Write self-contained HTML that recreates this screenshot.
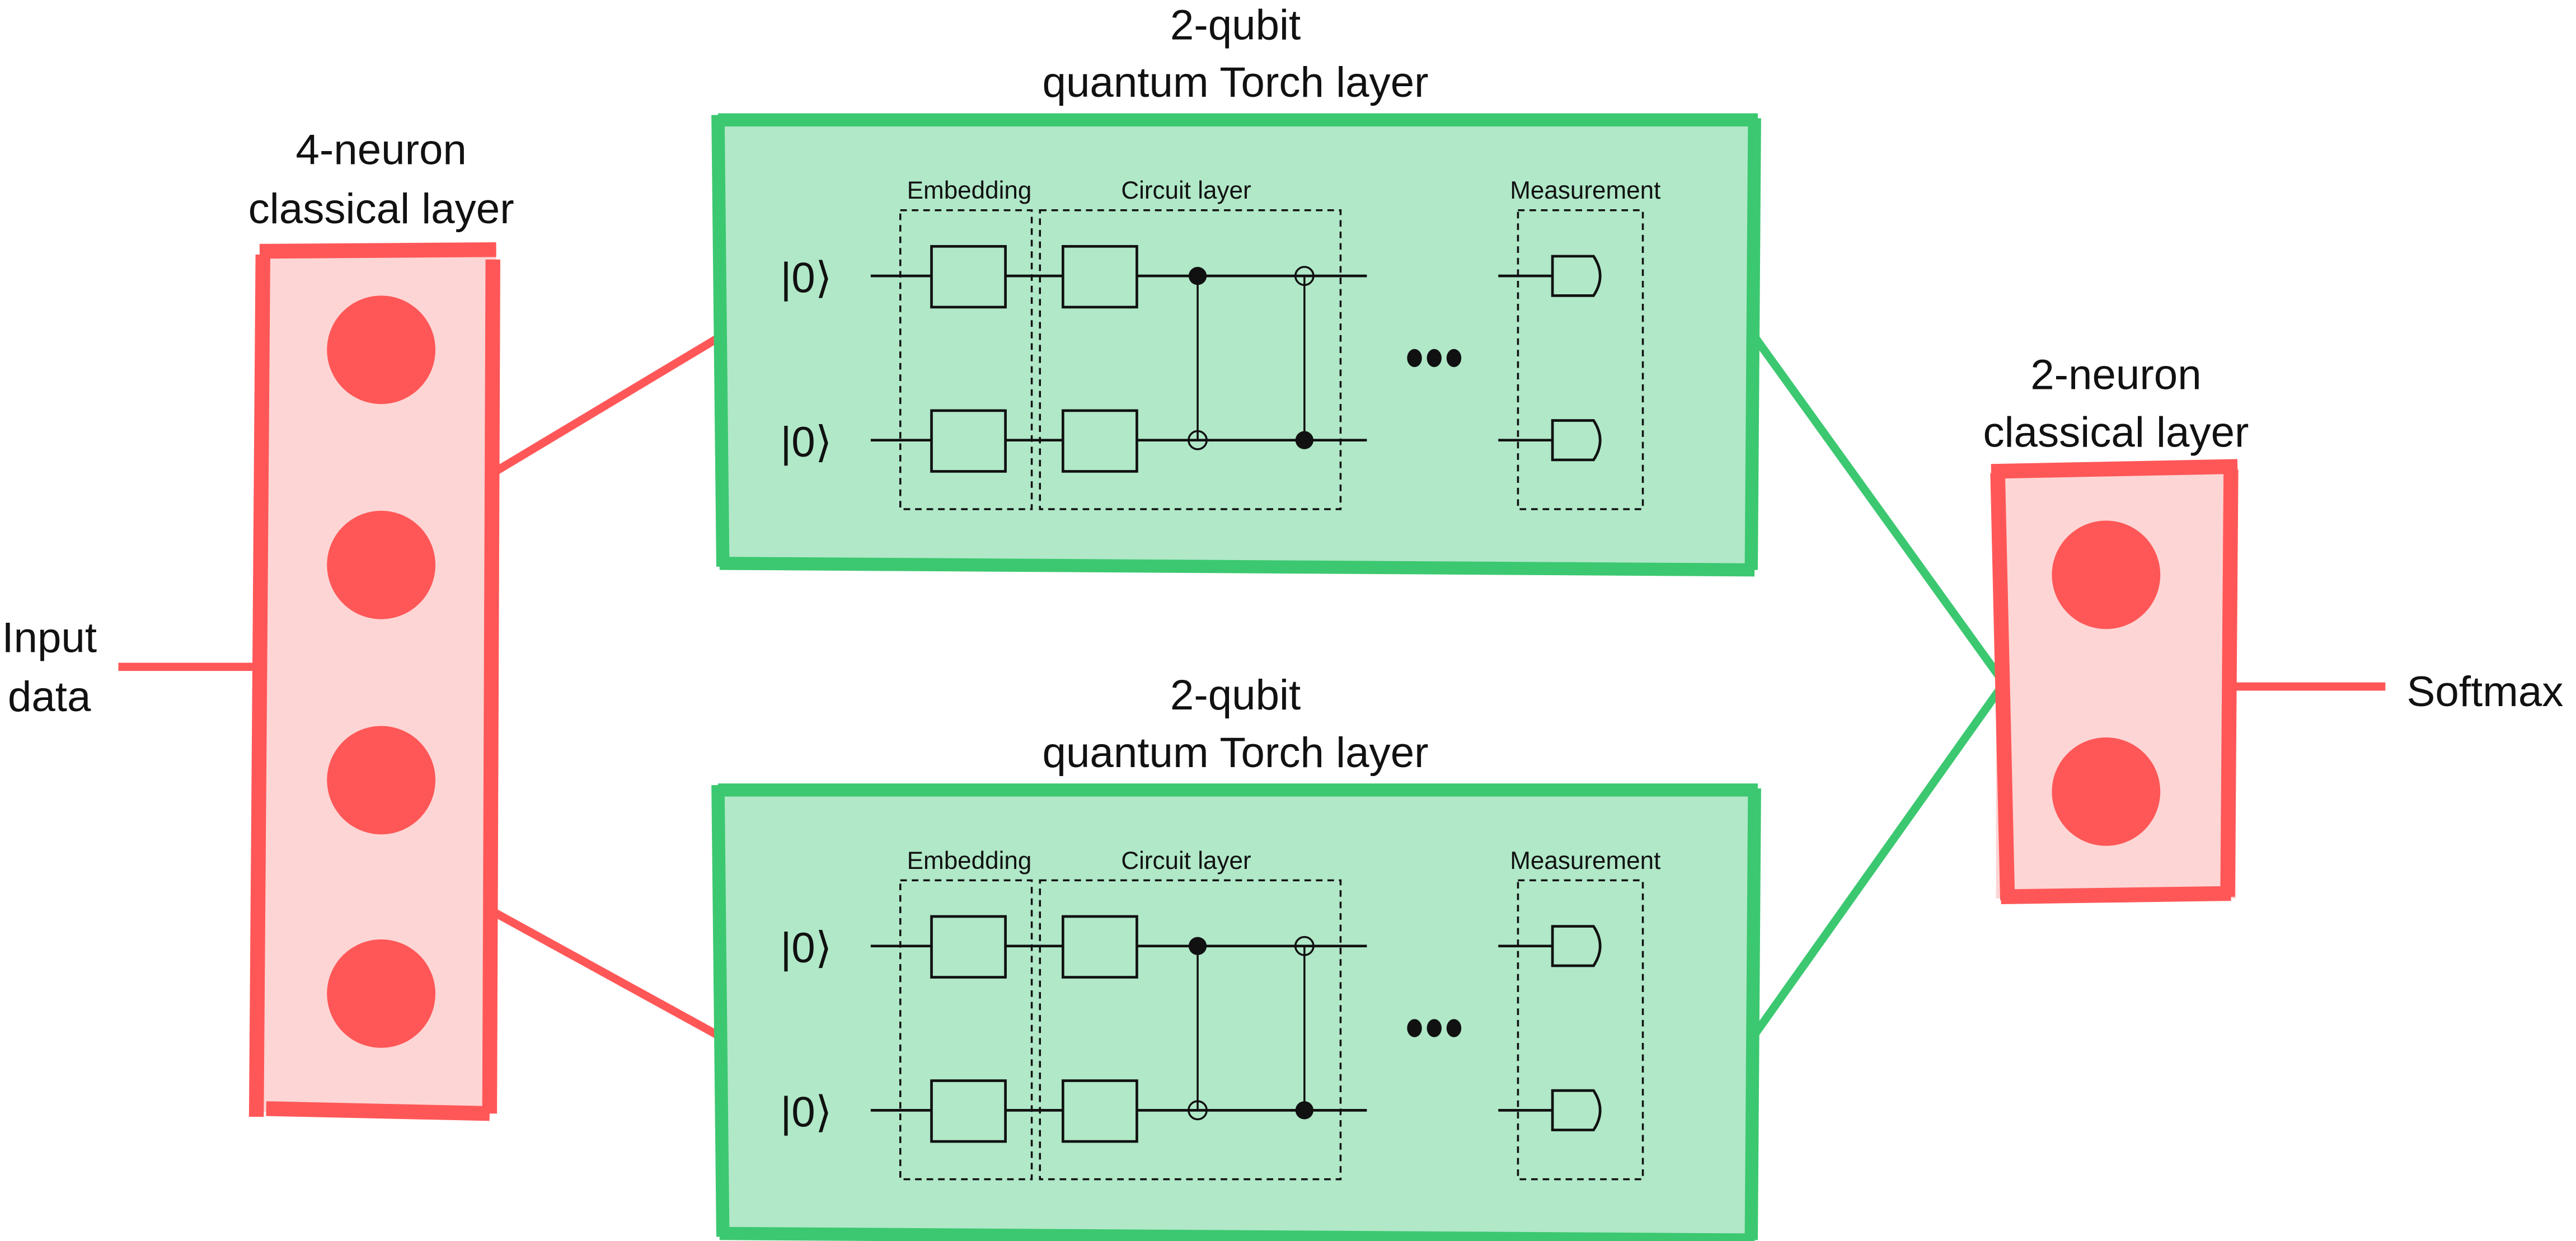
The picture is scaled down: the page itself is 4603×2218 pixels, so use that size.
<!DOCTYPE html>
<html><head><meta charset="utf-8">
<style>
html,body{margin:0;padding:0;background:#fff;}
svg{display:block;}
text{font-family:"Liberation Sans",sans-serif;fill:#111;}
</style></head>
<body>
<svg id="s" width="4603" height="2218" viewBox="0 0 1568 755.6" xmlns="http://www.w3.org/2000/svg">
  <line x1="72" y1="406" x2="162" y2="406" stroke="#FF5757" stroke-width="5"/>
  <line x1="300" y1="288" x2="440" y2="204" stroke="#FF5757" stroke-width="5"/>
  <line x1="300" y1="555" x2="440" y2="632" stroke="#FF5757" stroke-width="5"/>
  <line x1="1068" y1="205" x2="1217" y2="412" stroke="#3CC870" stroke-width="5"/>
  <line x1="1068" y1="630" x2="1217" y2="420" stroke="#3CC870" stroke-width="5"/>
  <line x1="1360" y1="418" x2="1452" y2="418" stroke="#FF5757" stroke-width="5"/>

  <text x="30" y="397" font-size="26" text-anchor="middle">Input</text>
  <text x="30" y="433" font-size="26" text-anchor="middle">data</text>
  <text x="1465" y="430" font-size="26">Softmax</text>

  <g>
    <rect x="160" y="152" width="142" height="525" fill="#FDD5D5"/>
    <path d="M160,155 L156,680 M162,675 L298,678 M300,158 L298,678 M158,153 L302,152" fill="none" stroke="#FF5757" stroke-width="9"/>
    <text x="232" y="100" font-size="26" text-anchor="middle">4-neuron</text>
    <text x="232" y="136" font-size="26" text-anchor="middle">classical layer</text>
  </g>
  <circle cx="232" cy="213" r="33" fill="#FF5757"/>
  <circle cx="232" cy="344" r="33" fill="#FF5757"/>
  <circle cx="232" cy="475" r="33" fill="#FF5757"/>
  <circle cx="232" cy="605" r="33" fill="#FF5757"/>

  <g>
    <rect x="1215" y="287" width="146" height="260" fill="#FDD5D5"/>
    <path d="M1216,288 L1222,548 M1218,546 L1358,544 M1358,286 L1356,546 M1212,287 L1362,284" fill="none" stroke="#FF5757" stroke-width="9"/>
    <text x="1288" y="237" font-size="26" text-anchor="middle">2-neuron</text>
    <text x="1288" y="272" font-size="26" text-anchor="middle">classical layer</text>
  </g>
  <circle cx="1282" cy="350" r="33" fill="#FF5757"/>
  <circle cx="1282" cy="482" r="33" fill="#FF5757"/>

  <g id="circuits"></g>
</svg>
<script>
const NS='http://www.w3.org/2000/svg';
const root=document.getElementById('circuits');
function mk(tag,attrs,parent){const e=document.createElementNS(NS,tag);for(const k in attrs)e.setAttribute(k,attrs[k]);(parent||root).appendChild(e);return e;}
const offsets=[0,408];
const names=['top','bottom'];
offsets.forEach((dy,i)=>{
  const g=mk('g',{transform:'translate(0,'+dy+')'});
  
  
  mk('rect',{x:437,y:72,width:632,height:273,fill:'#B0E8C8'},g);
  mk('path',{d:'M437,70 L440,345 M438,343 L1068,347 M1068,72 L1066,347 M437,73 L1070,73',fill:'none',stroke:'#3CC870','stroke-width':8},g);
  const t1=mk('text',{x:752,y:24,'font-size':26,'text-anchor':'middle'},g);t1.textContent='2-qubit';
  const t2=mk('text',{x:752,y:59,'font-size':26,'text-anchor':'middle'},g);t2.textContent='quantum Torch layer';
  const lb=[['Embedding',590],['Circuit layer',722],['Measurement',965]];
  lb.forEach(l=>{const t=mk('text',{x:l[1],y:121,'font-size':15,'text-anchor':'middle'},g);t.textContent=l[0];});
  const dash={fill:'none',stroke:'#111','stroke-width':1.2,'stroke-dasharray':'4,3'};
  mk('rect',Object.assign({x:548,y:128,width:80,height:182},dash),g);
  mk('rect',Object.assign({x:633,y:128,width:183,height:182},dash),g);
  mk('rect',Object.assign({x:924,y:128,width:76,height:182},dash),g);
  [168,268].forEach((wy,q)=>{
    const k=mk('text',{x:475,y:wy+10,'font-size':26},g);k.textContent='|0⟩';
    mk('line',{x1:530,y1:wy,x2:832,y2:wy,stroke:'#111','stroke-width':1.6},g);
    mk('rect',{x:567,y:wy-18,width:45,height:37,fill:'#B0E8C8',stroke:'#111','stroke-width':1.6},g);
    mk('rect',{x:647,y:wy-18,width:45,height:37,fill:'#B0E8C8',stroke:'#111','stroke-width':1.6},g);
    mk('line',{x1:912,y1:wy,x2:945,y2:wy,stroke:'#111','stroke-width':1.6},g);
    mk('path',{d:'M945,'+(wy-12)+' h25 q8,12 0,24 h-25 z',fill:'#B0E8C8',stroke:'#111','stroke-width':1.6},g);
  });
  mk('line',{x1:729,y1:168,x2:729,y2:268,stroke:'#111','stroke-width':1.2},g);
  mk('line',{x1:794,y1:168,x2:794,y2:268,stroke:'#111','stroke-width':1.2},g);
  mk('circle',{cx:729,cy:168,r:5.5,fill:'#111'},g);
  mk('circle',{cx:729,cy:268,r:5.5,fill:'none',stroke:'#111','stroke-width':1.2},g);
  mk('circle',{cx:794,cy:168,r:5.5,fill:'none',stroke:'#111','stroke-width':1.2},g);
  mk('circle',{cx:794,cy:268,r:5.5,fill:'#111'},g);
  [861,873,885].forEach(x=>mk('ellipse',{cx:x,cy:218,rx:4.5,ry:5.5,fill:'#111'},g));
});
</script>
</body></html>
